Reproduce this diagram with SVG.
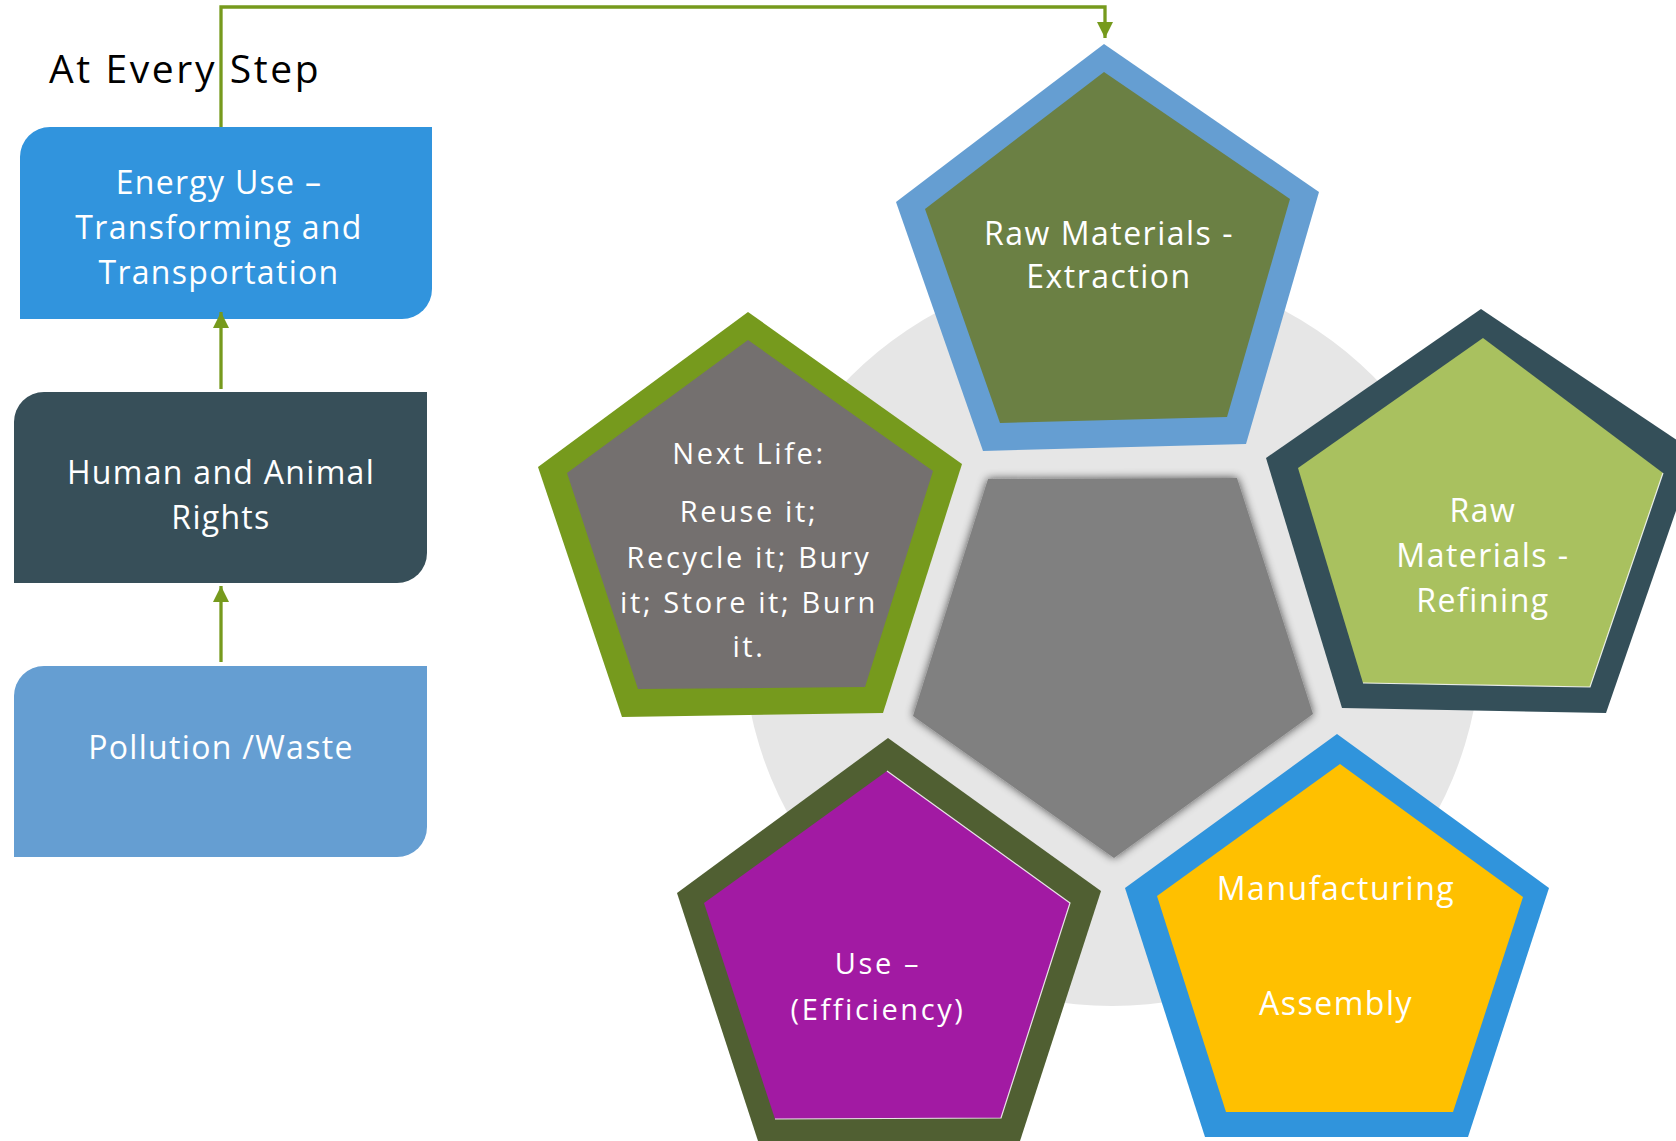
<svg xmlns="http://www.w3.org/2000/svg" width="1676" height="1141" viewBox="0 0 1676 1141">
<style>
  .t { font-family: "Open Sans", "Noto Sans", sans-serif; font-size: 32px; letter-spacing: 1.3px; fill: #ffffff; text-anchor: middle; }
  .p { font-family: "Open Sans", "Noto Sans", sans-serif; font-size: 32px; letter-spacing: 1.5px; fill: #ffffff; text-anchor: middle; }
  .t2 { font-family: "Open Sans", "Noto Sans", sans-serif; font-size: 29px; letter-spacing: 2.6px; fill: #ffffff; text-anchor: middle; }
  .title { font-family: "Open Sans", "Noto Sans", sans-serif; font-size: 39px; letter-spacing: 2.6px; fill: #000000; }
  .conn { fill: none; stroke: #769A1D; stroke-width: 3.3; }
  .hl { fill: none; stroke: #ffffff; stroke-width: 1.2; stroke-opacity: 0.85; }
</style>
<defs>
  <marker id="ah" markerUnits="userSpaceOnUse" markerWidth="16" markerHeight="16" viewBox="0 0 16 16" refX="16" refY="8" orient="auto">
    <path d="M0,0 L16,8 L0,16 Z" fill="#769A1D"/>
  </marker>
  <filter id="sh" x="-10%" y="-10%" width="120%" height="120%">
    <feGaussianBlur in="SourceAlpha" stdDeviation="5"/>
    <feComponentTransfer><feFuncA type="linear" slope="0.7"/></feComponentTransfer>
    <feMerge><feMergeNode/><feMergeNode in="SourceGraphic"/></feMerge>
  </filter>
</defs>
<rect width="1676" height="1141" fill="#ffffff"/>
<text class="title" x="49" y="83">At Every Step</text>

<g id="background-circle"><circle cx="1112" cy="637" r="369" fill="#E6E6E6"/></g>
<g id="center"><polygon points="988,479 1237,478 1313,714 1114,858 913,716" fill="#808080" filter="url(#sh)"/></g>

<g id="energy">
  <path d="M50,127 H432 V289 A30,30 0 0 1 402,319 H20 V157 A30,30 0 0 1 50,127 Z" fill="#3194DD"/>
  <text class="t" x="219" y="194">Energy Use –</text>
  <text class="t" x="219" y="239">Transforming and</text>
  <text class="t" x="219" y="284">Transportation</text>
</g>
<g id="rights">
  <path d="M44,392 H427 V553 A30,30 0 0 1 397,583 H14 V422 A30,30 0 0 1 44,392 Z" fill="#374F59"/>
  <text class="t" x="221" y="484">Human and Animal</text>
  <text class="t" x="221" y="529">Rights</text>
</g>
<g id="pollution">
  <path d="M44,666 H427 V827 A30,30 0 0 1 397,857 H14 V696 A30,30 0 0 1 44,666 Z" fill="#659ED2"/>
  <text class="t" x="221" y="759">Pollution /Waste</text>
</g>

<g id="extraction">
  <polygon points="1104,44 1319,192 1246,444 983,451 896,202" fill="#659ED2"/>
  <polygon points="1104,72 1290,199 1227,417 1000,423 925,209" fill="#6B8044"/>
  <text class="p" x="1109" y="245">Raw Materials -</text>
  <text class="p" x="1109" y="288">Extraction</text>
</g>
<g id="refining">
  <polygon points="1481,309 1696,453 1606,713 1342,708 1266,458" fill="#344F59"/>
  <polygon points="1483,338 1663,473 1590,687 1363,683 1298,468" fill="#A9C15F"/>
  <polyline class="hl" points="1663,473 1590,687 1363,683"/>
  <text class="p" x="1483" y="522">Raw</text>
  <text class="p" x="1483" y="567">Materials -</text>
  <text class="p" x="1483" y="612">Refining</text>
</g>
<g id="nextlife">
  <polygon points="748,312 962,464 883,713 622,717 538,467" fill="#769A1D"/>
  <polygon points="748,340 933,471 865,687 638,689 567,473" fill="#74706F"/>
  <text class="t2" x="749" y="464">Next Life:</text>
  <text class="t2" x="749" y="522">Reuse it;</text>
  <text class="t2" x="749" y="568">Recycle it; Bury</text>
  <text class="t2" x="749" y="613">it; Store it; Burn</text>
  <text class="t2" x="749" y="657">it.</text>
</g>
<g id="use">
  <polygon points="888,738 1101,891 1020,1141 758,1141 677,893" fill="#505F32"/>
  <polygon points="887,771 1070,903 1001,1118 775,1119 704,903" fill="#A21AA3"/>
  <polyline class="hl" points="887,771 1070,903 1001,1118 775,1119"/>
  <text class="t2" x="878" y="974">Use –</text>
  <text class="t2" x="878" y="1020">(Efficiency)</text>
</g>
<g id="manufacturing">
  <polygon points="1337,734 1549,888 1468,1137 1205,1137 1125,888" fill="#3094DC"/>
  <polygon points="1340,764 1523,897 1453,1112 1226,1112 1157,896" fill="#FFC000"/>
  <text class="p" x="1336" y="900">Manufacturing</text>
  <text class="p" x="1336" y="1015">Assembly</text>
</g>

<g id="connectors">
  <path class="conn" d="M221,127 V7 H1105 V38" marker-end="url(#ah)"/>
  <path class="conn" d="M221,389 V312" marker-end="url(#ah)"/>
  <path class="conn" d="M221,662 V586" marker-end="url(#ah)"/>
</g>
</svg>
